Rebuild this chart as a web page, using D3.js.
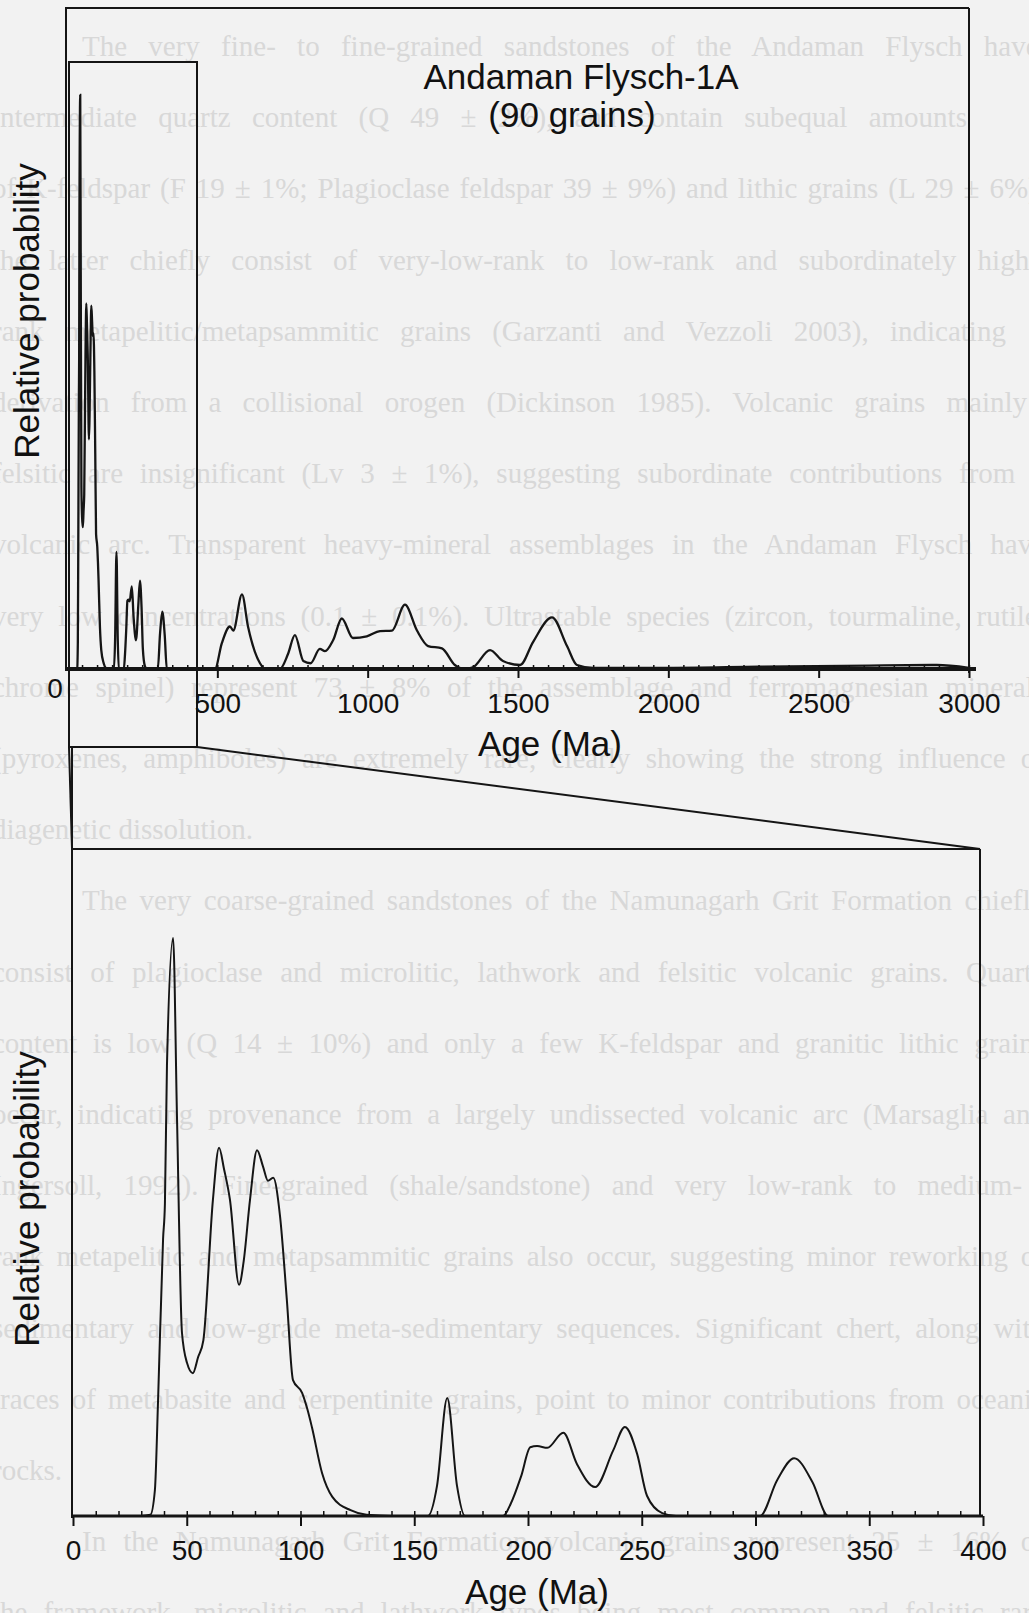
<!DOCTYPE html>
<html>
<head>
<meta charset="utf-8">
<style>
    body { margin: 0; background: #f2f2f2; }
    svg { display: block; }
    .bleed { font-family: "Liberation Serif", serif; font-size: 29px; fill: #d8d8d8; }
    .lbl { font-family: "Liberation Sans", Arial, sans-serif; fill: #111; }
    .tick text { font-family: "Liberation Sans", Arial, sans-serif; font-size: 28px; fill: #111; }
    .tick line { stroke: #111; }
</style>
<script src="https://cdn.jsdelivr.net/npm/d3@7"></script>
</head>
<body>
<div id="chartdiv"></div>
<script>
    // probability curve, 0-400 Ma, relative units (tallest peak = 100)
    const youngAges = [0, 30, 34, 36, 37.4, 39.6, 40.4, 41.3, 44, 45.7, 47.9, 50.1, 52.7, 55, 57.3, 61.5, 64.2, 66.4, 69, 73,
        75, 77.8, 80.9, 83.5, 85.7, 88, 91, 94, 96.7, 100.7, 103, 105, 109.5, 114, 122, 129, 140, 156, 160, 164.5,
        168.8, 172.3, 189, 192.5, 197, 201, 204, 208.5, 215.5, 221.5, 229.5, 237.5, 242.6, 248, 252.3, 259, 265,
        302, 309.5, 317, 325, 332, 400];
    const youngProbs = [0, 0, 0.2, 4.5, 20.1, 48, 54, 77.9, 100, 69.2, 31.7, 26.5, 24.7, 27.5, 30.4, 54.7, 63.7, 60, 54.7, 40,
        44, 54.7, 63.3, 60.5, 58, 58.5, 51.9, 37.4, 23.5, 21.3, 18.5, 15.4, 7.4, 3.3, 1, 0.2, 0, 0, 5.2, 20.4,
        5.2, 0, 0, 2.2, 6.9, 11.9, 12.1, 11.8, 14.4, 9, 5, 11.4, 15.4, 10.7, 3.5, 0.5, 0,
        0, 6.2, 10, 5.9, 0, 0];

    // older part of the curve, only shown in the full 0-3000 Ma panel
    const oldAges = [400, 492, 515, 542, 553, 582, 602, 642, 660, 708, 735, 758, 786, 810, 841, 858, 885, 914, 951, 997,
        1041, 1081, 1124, 1164, 1201, 1247, 1290, 1320, 1350, 1407, 1450, 1507, 1550, 1613, 1663, 1696, 1750,
        2000, 2300, 2670, 2893, 3000];
    const oldProbs = [0, 0, 4.5, 7.4, 6.7, 13, 7.4, 1, 0, 0, 2.6, 5.9, 1.4, 1, 3.5, 3.1, 5, 8.8, 5.4, 5.7,
        6.6, 6.7, 11.2, 6.7, 4, 3.6, 0.7, 0, 0.3, 3.3, 1.4, 0.7, 4.7, 9, 4, 0.7, 0.2,
        0.2, 0.4, 0.6, 0.7, 0.2];

    const topTicks = [500, 1000, 1500, 2000, 2500, 3000];
    const zoomTicks = [0, 50, 100, 150, 200, 250, 300, 350, 400];

    // page text showing faintly through the figure
    const pageLines = [
        "The very fine- to fine-grained sandstones of the Andaman Flysch have",
        "intermediate quartz content (Q 49 ± 2%), and contain subequal amounts",
        "of K-feldspar (F 19 ± 1%; Plagioclase feldspar 39 ± 9%) and lithic grains (L 29 ± 6%),",
        "the latter chiefly consist of very-low-rank to low-rank and subordinately high-",
        "rank metapelitic/metapsammitic grains (Garzanti and Vezzoli 2003), indicating",
        "derivation from a collisional orogen (Dickinson 1985). Volcanic grains mainly",
        "felsitic are insignificant (Lv 3 ± 1%), suggesting subordinate contributions from a",
        "volcanic arc. Transparent heavy-mineral assemblages in the Andaman Flysch have",
        "very low concentrations (0.1 ± 0.1%). Ultrastable species (zircon, tourmaline, rutile,",
        "chrome spinel) represent 73 ± 8% of the assemblage and ferromagnesian minerals",
        "(pyroxenes, amphiboles) are extremely rare, clearly showing the strong influence of",
        "diagenetic dissolution.",
        "The very coarse-grained sandstones of the Namunagarh Grit Formation chiefly",
        "consist of plagioclase and microlitic, lathwork and felsitic volcanic grains. Quartz",
        "content is low (Q 14 ± 10%) and only a few K-feldspar and granitic lithic grains",
        "occur, indicating provenance from a largely undissected volcanic arc (Marsaglia and",
        "Ingersoll, 1992). Fine-grained (shale/sandstone) and very low-rank to medium-",
        "rank metapelitic and metapsammitic grains also occur, suggesting minor reworking of",
        "sedimentary and low-grade meta-sedimentary sequences. Significant chert, along with",
        "traces of metabasite and serpentinite grains, point to minor contributions from oceanic",
        "rocks.",
        "In the Namunagarh Grit Formation volcanic grains represent 25 ± 16% of",
        "the framework, microlitic and lathwork types being most common and felsitic rare"
    ];
    const indented = [0, 12, 21];
    const shortLines = [11, 20];

    const W = 1029, H = 1613;
    const ink = '#151515';

    const svg = d3.select('#chartdiv').append('svg').attr('width', W).attr('height', H);
    svg.append('rect').attr('width', W).attr('height', H).attr('fill', '#f2f2f2');

    // justified lines running past the right edge, as on the scanned page
    svg.append('g').selectAll('text').data(pageLines).join('text')
        .attr('class', 'bleed')
        .attr('x', (d, i) => indented.includes(i) ? 82 : -8)
        .attr('y', (d, i) => 56 + i * 71.2)
        .text(d => d)
        .each(function (d, i) {
            if (shortLines.includes(i)) return;
            const start = indented.includes(i) ? 82 : -8;
            const gaps = d.split(' ').length - 1;
            const extra = (1045 - start) - this.getComputedTextLength();
            if (gaps > 0 && extra > 0) d3.select(this).style('word-spacing', Math.min(extra / gaps, 14) + 'px');
        });

    const toPts = (ages, probs) => ages.map((a, i) => ({age: a, p: probs[i]}));
    const youngData = toPts(youngAges, youngProbs);
    const allData = toPts(youngAges.slice(0, -1), youngProbs.slice(0, -1)).concat(toPts(oldAges, oldProbs));

    // scales
    const xTop = d3.scaleLinear().domain([0, 3000]).range([67, 969]);
    const yTop = d3.scaleLinear().domain([0, 100]).range([669, 95]);
    const xLow = d3.scaleLinear().domain([0, 400]).range([73, 983]);
    const yLow = d3.scaleLinear().domain([0, 100]).range([1516, 938]);

    const frame = (x1, y1, x2, y2, w) => svg.append('line')
        .attr('x1', x1).attr('y1', y1).attr('x2', x2).attr('y2', y2)
        .attr('stroke', ink).attr('stroke-width', w || 2);

    // ---------- top panel (0-3000 Ma) ----------
    frame(65, 8, 969, 8);
    frame(66, 8, 66, 671);
    frame(969, 8, 969, 673);

    // inset box marking the enlarged part, plus the connector lines
    svg.append('rect').attr('x', 69).attr('y', 62).attr('width', 128).attr('height', 685)
        .attr('fill', 'none').attr('stroke', ink).attr('stroke-width', 2);
    frame(69, 747, 72, 849);
    frame(197, 747, 980, 849);

    svg.append('path').datum(allData)
        .attr('fill', 'none').attr('stroke', ink).attr('stroke-width', 2.3)
        .attr('d', d3.line().x(d => xTop(d.age)).y(d => yTop(d.p)).curve(d3.curveMonotoneX));

    svg.append('g').attr('transform', 'translate(0,669)')
        .call(d3.axisBottom(xTop).tickValues(d3.range(50, 3001, 50)).tickSize(-4).tickFormat(''))
        .call(g => g.select('.domain').remove())
        .call(g => g.selectAll('.tick line').attr('stroke-width', 1.5));
    svg.append('g').attr('transform', 'translate(0,669)')
        .call(d3.axisBottom(xTop).tickValues(topTicks).tickSize(9).tickPadding(15).tickFormat(d3.format('d')))
        .call(g => g.select('.domain').remove())
        .call(g => g.selectAll('.tick line').attr('stroke-width', 2));
    frame(65, 669, 976, 669, 4);

    svg.append('text').attr('class', 'lbl').attr('x', 55).attr('y', 698)
        .attr('text-anchor', 'middle').attr('font-size', 28).text('0');

    svg.append('text').attr('class', 'lbl').attr('x', 581).attr('y', 89)
        .attr('text-anchor', 'middle').attr('font-size', 35).text('Andaman Flysch-1A');
    svg.append('text').attr('class', 'lbl').attr('x', 572).attr('y', 127)
        .attr('text-anchor', 'middle').attr('font-size', 35).text('(90 grains)');
    svg.append('text').attr('class', 'lbl').attr('x', 550).attr('y', 756)
        .attr('text-anchor', 'middle').attr('font-size', 35).text('Age (Ma)');
    svg.append('text').attr('class', 'lbl')
        .attr('transform', 'translate(39,311) rotate(-90)')
        .attr('text-anchor', 'middle').attr('font-size', 35).text('Relative probability');

    // ---------- lower panel (0-400 Ma, enlarged) ----------
    frame(72, 849, 980, 849);
    frame(72, 747, 72, 1518);
    frame(980, 849, 980, 1516);

    svg.append('path').datum(youngData)
        .attr('fill', 'none').attr('stroke', ink).attr('stroke-width', 2)
        .attr('d', d3.line().x(d => xLow(d.age)).y(d => yLow(d.p)).curve(d3.curveMonotoneX));

    svg.append('g').attr('transform', 'translate(0,1516)')
        .call(d3.axisBottom(xLow).tickValues(d3.range(10, 400, 10)).tickSize(-5).tickFormat(''))
        .call(g => g.select('.domain').remove())
        .call(g => g.selectAll('.tick line').attr('stroke-width', 1.5));
    svg.append('g').attr('transform', 'translate(0,1516)')
        .call(d3.axisBottom(xLow).tickValues(zoomTicks).tickSize(10).tickPadding(14))
        .call(g => g.select('.domain').remove())
        .call(g => g.selectAll('.tick line').attr('stroke-width', 2));
    frame(72, 1516, 983, 1516, 3);

    svg.append('text').attr('class', 'lbl').attr('x', 537).attr('y', 1604)
        .attr('text-anchor', 'middle').attr('font-size', 35).text('Age (Ma)');
    svg.append('text').attr('class', 'lbl')
        .attr('transform', 'translate(39,1199) rotate(-90)')
        .attr('text-anchor', 'middle').attr('font-size', 35).text('Relative probability');
</script>
</body>
</html>
